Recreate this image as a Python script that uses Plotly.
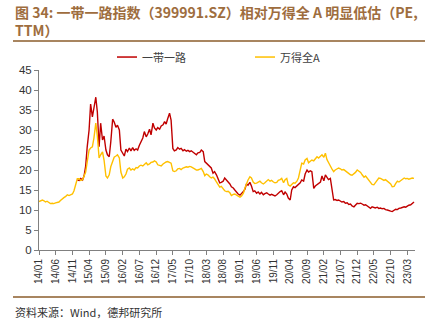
import pandas as pd
import plotly.graph_objects as go

# semi-monthly observation dates (1st and 15th of each month)
dates = pd.date_range("2014-01-01", "2023-05-01", freq="SMS")

# 万得全A PE(TTM)
wande = [
    12.1, 12.2, 12.5, 12.3, 12.0, 12.2, 11.8, 11.6, 11.7, 11.6, 11.8, 11.9, 12.0, 12.4, 12.9, 13.1, 13.4, 13.8, 13.6, 13.7, 14.0, 14.8, 16.5, 17.8,
    17.8, 17.4, 17.6, 18.4, 19.5, 22.0, 25.0, 25.5, 25.8, 28.0, 31.7, 28.5, 23.0, 23.8, 24.5, 22.5, 18.5, 18.0, 18.8, 20.8, 22.5, 23.2, 23.5, 23.8,
    23.0, 19.5, 18.0, 18.3, 19.0, 20.2, 20.5, 20.0, 20.3, 20.0, 20.6, 20.5, 21.0, 21.2, 21.0, 21.5, 21.8, 21.3, 21.5, 21.9, 22.0, 22.3, 22.0, 21.3,
    21.2, 21.0, 21.5, 21.8, 22.0, 22.1, 21.9, 21.7, 19.8, 19.6, 19.8, 20.3, 20.4, 20.1, 20.5, 20.6, 20.8, 20.7, 20.9, 20.8, 20.6, 20.3, 20.0, 20.0,
    20.2, 20.4, 19.6, 18.6, 19.0, 18.8, 18.3, 18.0, 18.2, 17.8, 17.0, 16.5, 15.7, 15.9, 15.4, 14.8, 14.6, 14.7, 14.3, 13.6, 13.9, 14.0, 13.7, 13.4,
    13.2, 13.5, 14.2, 15.5, 16.8, 17.5, 18.3, 18.0, 17.0, 16.6, 16.7, 17.0, 17.2, 16.8, 16.5, 16.8, 17.3, 17.6, 17.2, 17.4, 17.0, 16.8, 16.9, 17.4,
    17.6, 17.9, 16.8, 17.6, 17.9, 16.3, 16.0, 16.4, 16.8, 16.7, 17.2, 18.0, 20.0, 21.7, 21.5, 22.5, 22.9, 21.8, 22.2, 22.5, 22.3, 22.8, 23.3, 23.0,
    23.5, 23.8, 23.2, 24.2, 22.6, 22.0, 21.0, 20.3, 19.6, 20.0, 20.4, 20.5, 20.3, 20.0, 20.1, 19.8, 19.3, 19.0, 18.8, 18.7, 19.0, 19.4, 20.0, 19.8,
    19.4, 18.8, 18.2, 18.5, 18.0, 17.3, 17.0, 16.4, 16.3, 16.8, 17.5, 18.0, 17.9, 17.6, 17.4, 17.6, 17.2, 16.9, 16.5, 15.8, 15.9, 16.6, 17.2, 17.0,
    17.4, 17.8, 18.0, 17.8, 17.9, 17.7, 17.9, 18.0, 17.9,
]

# 一带一路指数 PE(TTM)
yidai = [
    None, None, None, None, None, None, None, None, None, None, None, None, None, None, None, None, None, None, None, None, None, None, None, 17.5,
    17.4, 17.9, 17.5, 18.6, 21.0, 25.8, 30.0, 36.5, 33.3, 35.5, 38.2, 34.5, 25.8, 31.7, 27.5, 28.5, 25.0, 23.8, 23.3, 27.0, 32.7, 32.0, 30.7, 31.2,
    30.0, 25.0, 24.0, 23.5, 25.2, 24.6, 25.5, 24.8, 25.6, 24.9, 25.3, 25.0, 26.2, 27.0, 28.0, 29.6, 28.3, 29.0, 30.2, 28.8, 31.7, 30.5, 30.0, 30.6,
    30.2, 31.0, 31.3, 32.1, 31.5, 32.8, 34.2, 32.5, 25.4, 24.8, 25.0, 25.6, 25.2, 25.4, 24.8, 25.1, 24.7, 24.9, 24.6, 24.8, 24.5, 24.2, 23.8, 24.3,
    24.4, 25.0, 24.6, 22.1, 21.7, 21.2, 20.8, 20.5, 19.2, 19.6, 18.8, 18.0, 16.8, 16.9, 17.2, 18.0, 17.5, 17.0, 16.5, 15.8, 15.5, 15.0, 14.4, 14.0,
    13.7, 14.0, 14.6, 15.2, 16.5, 16.2, 16.9, 16.0, 14.6, 14.8, 14.2, 14.5, 14.0, 14.4, 13.8, 14.1, 14.3, 14.0, 13.7, 13.9, 13.6, 13.5, 13.8, 14.2,
    14.6, 14.8, 13.8, 14.5, 14.0, 13.0, 12.5, 15.0, 15.8, 15.6, 16.0, 16.2, 16.8, 17.5, 17.2, 19.0, 20.0, 19.5, 19.8, 19.6, 15.4, 16.0, 16.3, 16.7,
    17.0, 18.5, 17.3, 18.8, 18.0, 17.6, 17.9, 15.8, 12.5, 12.6, 12.4, 12.5, 12.3, 12.0, 12.1, 11.7, 11.8, 11.4, 11.5, 11.0, 10.8, 11.2, 11.7, 11.6,
    11.7, 11.5, 11.2, 11.3, 11.0, 10.6, 10.4, 10.8, 10.6, 10.5, 10.7, 10.4, 10.5, 10.3, 10.4, 10.1, 10.0, 9.8, 9.7, 9.6, 9.9, 10.2, 10.1, 10.4,
    10.5, 10.6, 10.8, 10.7, 11.0, 11.2, 11.3, 11.7, 12.0,
]

series_names = ["一带一路", "万得全A"]
series_colors = ["#C00000", "#FFC000"]
y_ticks = [0, 5, 10, 15, 20, 25, 30, 35, 40, 45]

assert len(dates) == len(wande) == len(yidai)

FONT = "Liberation Sans, Arial, Noto Sans CJK SC, sans-serif"
CJK = "Noto Sans CJK SC, Liberation Sans, sans-serif"
BROWN = "#9E6D3E"

fig = go.Figure()
fig.add_trace(go.Scatter(x=dates, y=yidai, mode="lines", name=series_names[0],
                         line=dict(color=series_colors[0], width=1.4), connectgaps=False))
fig.add_trace(go.Scatter(x=dates, y=wande, mode="lines", name=series_names[1],
                         line=dict(color=series_colors[1], width=1.4)))

fig.update_layout(
    width=435, height=325,
    margin=dict(l=39, r=20, t=70, b=75),
    paper_bgcolor="white", plot_bgcolor="white",
    showlegend=False,
    font=dict(family=FONT, size=11, color="#333333"),
    xaxis=dict(
        type="date", range=["2014-01-01", "2023-05-10"],
        tick0="2014-01-01", dtick="M5", tickformat="%y/%m",
        tickangle=-90, tickfont=dict(size=10, color="#333333"),
        showgrid=False, zeroline=False,
        showline=True, linecolor="#808080", linewidth=1,
        ticks="outside", ticklen=4, tickcolor="#808080",
    ),
    yaxis=dict(
        range=[0, 45], tickvals=y_ticks,
        tickfont=dict(size=11.5, color="#333333"),
        showgrid=False, zeroline=False,
        showline=True, linecolor="#808080", linewidth=1,
        ticks="outside", ticklen=4, tickcolor="#808080",
    ),
)

# manual legend
legend_items = [(117, series_names[0], series_colors[0]), (255, series_names[1], series_colors[1])]
for px, name, col in legend_items:
    x0 = (px - 39) / 376
    x1 = (px + 20 - 39) / 376
    fig.add_shape(type="line", xref="paper", yref="paper", x0=x0, x1=x1, y0=1.072, y1=1.072,
                  line=dict(color=col, width=1.5))
    fig.add_annotation(xref="paper", yref="paper", x=(px + 23 - 39) / 376, y=1.072,
                       text=name, showarrow=False, xanchor="left", yanchor="middle",
                       font=dict(family=CJK, size=11, color="#404040"))

# title (two lines in one text block)
fig.add_annotation(xref="paper", yref="paper", x=(13 - 39) / 376, y=(250 - 21) / 180,
                   text="<b>图 34: 一带一路指数（399991.SZ）相对万得全 A 明显低估（PE,</b><br><b>TTM）</b>",
                   showarrow=False, xanchor="left", yanchor="middle", align="left",
                   font=dict(family=CJK, size=14, color=BROWN))
# divider lines
for ly in (41, 297):
    fig.add_shape(type="line", xref="paper", yref="paper",
                  x0=(13 - 39) / 376, x1=(425 - 39) / 376,
                  y0=(250 - ly) / 180, y1=(250 - ly) / 180,
                  line=dict(color="#A88560", width=2))
# source
fig.add_annotation(xref="paper", yref="paper", x=(13 - 39) / 376, y=(250 - 312) / 180,
                   text="资料来源：Wind，德邦研究所",
                   showarrow=False, xanchor="left", yanchor="middle",
                   font=dict(family=CJK, size=11, color="#333333"))

fig.write_html("out.html")
